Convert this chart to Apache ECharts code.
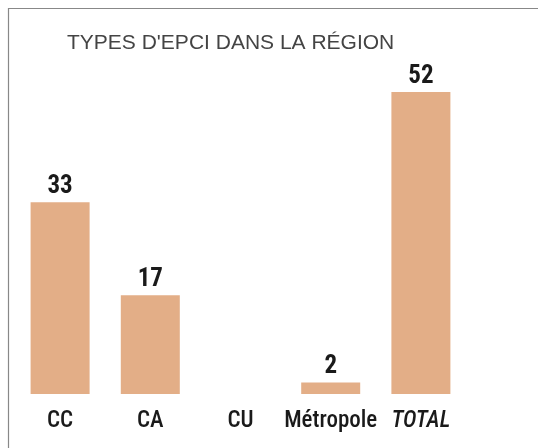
<!DOCTYPE html>
<html>
<head>
<meta charset="utf-8">
<script src="https://cdn.jsdelivr.net/npm/echarts@6/dist/echarts.min.js"></script>
<style>
html,body{margin:0;padding:0;background:#fff;}
#chart{width:538px;height:448px;}
</style>
</head>
<body>
<div id="chart"></div>
<script>
var titleText = "TYPES D'EPCI DANS LA RÉGION";
var categories = ["CC", "CA", "CU", "Métropole", "TOTAL"];
var values = [33, 17, 0, 2, 52];
var yMax = 52;

var condensed = "'Liberation Sans Narrow', 'Arial Narrow', 'Roboto Condensed', 'Liberation Sans', sans-serif";

var chart = echarts.init(document.getElementById('chart'));
chart.setOption({
  animation: false,
  backgroundColor: '#ffffff',
  title: {
    text: titleText,
    left: 62,
    top: 28,
    textStyle: {
      fontFamily: "'Liberation Sans', Arial, sans-serif",
      fontWeight: 'normal',
      fontSize: 21,
      color: '#444444'
    }
  },
  graphic: [{
    type: 'polyline',
    shape: { points: [[8.5, 448], [8.5, 8.5], [538, 8.5]] },
    style: { stroke: '#888888', lineWidth: 1.2, fill: null }
  }],
  grid: { left: 15, right: 72, top: 92, bottom: 54, containLabel: false },
  xAxis: {
    type: 'category',
    data: categories,
    axisLine: { show: false },
    axisTick: { show: false },
    axisLabel: {
      interval: 0,
      hideOverlap: false,
      margin: 16,
      fontFamily: condensed,
      fontWeight: 500,
      fontSize: 23,
      color: '#1a1a1a',
      formatter: function (v) { return v === 'TOTAL' ? '{it|' + v + '}' : v; },
      rich: {
        it: { fontStyle: 'italic', fontFamily: condensed, fontWeight: 500, fontSize: 23, color: '#1a1a1a' }
      }
    }
  },
  yAxis: {
    type: 'value',
    min: 0,
    max: yMax,
    show: false,
    splitLine: { show: false }
  },
  series: [{
    type: 'bar',
    data: values,
    barWidth: 59,
    itemStyle: { color: '#E3AE87' },
    label: {
      show: true,
      position: 'top',
      distance: 3,
      fontFamily: condensed,
      fontWeight: 'bold',
      fontSize: 25,
      color: '#1a1a1a',
      formatter: function (p) { return p.value === 0 ? '' : String(p.value); }
    }
  }]
});
</script>
</body>
</html>
